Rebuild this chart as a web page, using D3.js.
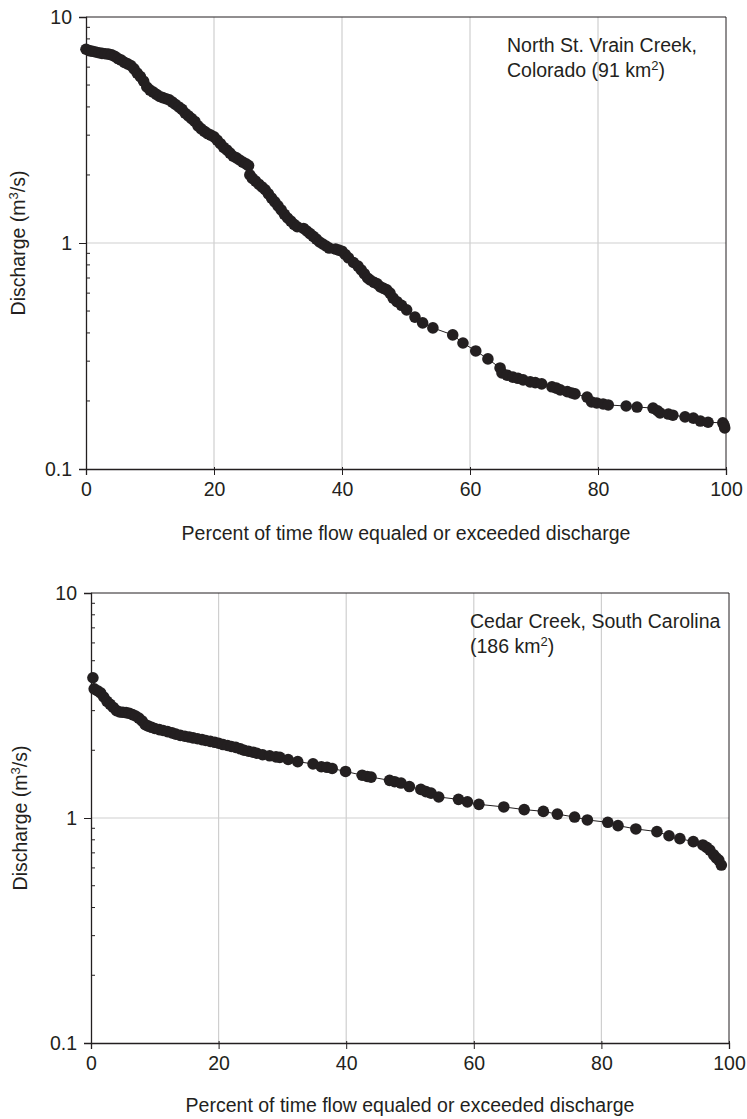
<!DOCTYPE html>
<html>
<head>
<meta charset="utf-8">
<script src="https://cdn.jsdelivr.net/npm/d3@7"></script>
<style>
  body { margin: 0; background: #fff; }
  text { font-family: "Liberation Sans", Arial, sans-serif; fill: #231f20; }
</style>
</head>
<body>
<div id="chart"></div>
<script>
//////////////////////////// DATA ////////////////////////////
// North St. Vrain Creek, Colorado - percent exceeded / discharge (m3/s)
var vrainPct = [0, 0.5, 1, 1.5, 2, 2.5, 3, 3.5, 4, 4.5, 5, 5.5, 6, 6.5, 7, 7.5, 8, 8.5, 9, 9.5,
  10, 10.5, 11, 11.5, 12, 12.5, 13, 13.5, 14, 14.5, 15, 15.5, 16, 16.5, 17, 17.5, 18, 18.5, 19, 19.5,
  20, 20.5, 21, 21.5, 22, 22.5, 23, 23.5, 24, 24.5, 25, 25.4, 25.6, 26, 26.5, 27, 27.5, 28, 28.5, 29,
  29.5, 30, 30.5, 31, 31.5, 32, 32.5, 33, 34, 34.5, 35, 35.5, 36, 36.5, 37, 37.5, 38, 39, 39.5, 40,
  40.5, 41, 41.8, 42.5, 43, 43.5, 44, 44.4, 45, 45.5, 46, 46.5, 47, 47.5, 48, 48.6, 49.3, 50.1, 51.4, 52.6,
  54.2, 57.3, 58.9, 60.9, 62.8, 64.7, 65, 65.8, 66.7, 67.5, 68.3, 69.4, 70.2, 71.2, 72.8, 73.5, 74.1, 75.2, 75.9, 76.4,
  78.3, 79, 79.8, 80.8, 81.6, 84.4, 86.1, 88.6, 89.3, 89.7, 91, 91.7, 93.6, 94.9, 96, 97.2, 99.5, 99.7, 99.8];
var vrainQ = [7.2, 7.1, 7.05, 7.0, 6.95, 6.9, 6.88, 6.85, 6.8, 6.7, 6.55, 6.45, 6.3, 6.2, 6.1, 5.9, 5.65, 5.45, 5.2, 4.9,
  4.75, 4.65, 4.55, 4.45, 4.4, 4.35, 4.3, 4.2, 4.1, 4.0, 3.9, 3.75, 3.65, 3.55, 3.45, 3.3, 3.2, 3.12, 3.05, 3.0,
  2.95, 2.85, 2.75, 2.65, 2.58, 2.5, 2.42, 2.38, 2.33, 2.28, 2.24, 2.2, 2.0, 1.93, 1.88, 1.82, 1.77, 1.72, 1.65, 1.58,
  1.52, 1.46, 1.4, 1.34, 1.29, 1.25, 1.21, 1.18, 1.16, 1.13, 1.1, 1.07, 1.04, 1.01, 0.99, 0.97, 0.95, 0.94, 0.93, 0.92,
  0.89, 0.86, 0.82, 0.79, 0.76, 0.73, 0.7, 0.686, 0.67, 0.66, 0.64, 0.63, 0.62, 0.6, 0.57, 0.55, 0.53, 0.506, 0.47, 0.443,
  0.421, 0.392, 0.361, 0.333, 0.307, 0.28, 0.266, 0.26, 0.255, 0.252, 0.248, 0.243, 0.241, 0.238, 0.231, 0.228, 0.224, 0.22, 0.217, 0.215,
  0.208, 0.198, 0.196, 0.194, 0.192, 0.19, 0.188, 0.186, 0.181, 0.177, 0.175, 0.173, 0.17, 0.168, 0.163, 0.161, 0.16, 0.156, 0.152];

// Cedar Creek, South Carolina
var cedarPct = [0.3, 0.5, 1, 1.5, 2, 2.5, 3, 3.5, 4, 4.5, 5, 5.5, 6, 6.5, 7, 7.5, 8, 8.5, 9, 9.5,
  10, 10.7, 11.3, 12, 12.7, 13.3, 14, 14.7, 15.4, 16, 16.7, 17.4, 18, 18.7, 19.4, 20, 20.7, 21.4, 22, 22.7,
  23.4, 24, 24.7, 25.4, 26, 26.9, 28, 29, 29.6, 30.9, 32.4, 34.8, 36.1, 37, 37.8, 39.9, 42.5, 43.3, 43.9, 46.8,
  47.6, 48.6, 49.9, 51.7, 52.5, 53.3, 54.5, 57.6, 59, 60.8, 64.7, 67.9, 70.9, 73.1, 75.8, 77.8, 81, 82.6, 85.4, 88.7,
  90.6, 92.3, 94.4, 95.9, 96.5, 97, 97.6, 98, 98.4, 98.8];
var cedarQ = [4.2, 3.75, 3.68, 3.6, 3.45, 3.3, 3.2, 3.1, 3.0, 2.96, 2.95, 2.94, 2.92, 2.88, 2.84, 2.78, 2.7, 2.6, 2.56, 2.53,
  2.5, 2.47, 2.45, 2.42, 2.39, 2.36, 2.33, 2.31, 2.29, 2.27, 2.25, 2.23, 2.21, 2.19, 2.17, 2.15, 2.12, 2.1, 2.08, 2.06,
  2.03, 2.0, 1.98, 1.96, 1.94, 1.91, 1.89, 1.87, 1.86, 1.82, 1.78, 1.74, 1.69, 1.68, 1.66, 1.61, 1.55, 1.53, 1.52, 1.47,
  1.45, 1.43, 1.38, 1.34, 1.31, 1.29, 1.24, 1.21, 1.18, 1.15, 1.12, 1.09, 1.07, 1.04, 1.01, 0.98, 0.957, 0.925, 0.894, 0.87,
  0.834, 0.81, 0.785, 0.759, 0.74, 0.72, 0.686, 0.665, 0.65, 0.618];

var xTicks = [0, 20, 40, 60, 80, 100];
var yTicks = [0.1, 1, 10];
var yTickLabels = ["0.1", "1", "10"];
var xTitle = "Percent of time flow equaled or exceeded discharge";
var vrainLabel = ["North St. Vrain Creek,", "Colorado (91 km", "2", ")"];
var cedarLabel = ["Cedar Creek, South Carolina", "(186 km", "2", ")"];

//////////////////////////// D3 ////////////////////////////
var width = 747;
var height = 1119;
var ink = "#231f20";
var fs = 19.5;

var svg = d3.select('#chart')
  .append('svg')
  .attr('width', width)
  .attr('height', height);

function drawPanel(cfg) {
  var g = svg.append('g');

  var x = d3.scaleLinear().domain([0, 100]).range([cfg.left, cfg.right]);
  var y = d3.scaleLog().domain([0.1, 10]).range([cfg.bottom, cfg.top]);

  // grid
  g.selectAll('.vgrid')
    .data(xTicks.filter(function(d) { return d > 0 && d < 100; }))
    .enter().append('line')
    .attr('x1', function(d) { return x(d); })
    .attr('x2', function(d) { return x(d); })
    .attr('y1', cfg.top).attr('y2', cfg.bottom)
    .attr('stroke', '#cfcfcf').attr('stroke-width', 1.2);

  g.append('line')
    .attr('x1', cfg.left).attr('x2', cfg.right)
    .attr('y1', y(1)).attr('y2', y(1))
    .attr('stroke', '#cfcfcf').attr('stroke-width', 1.2);

  // frame (top + right)
  g.append('path')
    .attr('d', 'M' + cfg.left + ',' + cfg.top + 'H' + cfg.right + 'V' + cfg.bottom)
    .attr('fill', 'none').attr('stroke', ink).attr('stroke-width', 1);

  // x axis
  var xAxis = d3.axisBottom(x).tickValues(xTicks).tickSize(6).tickPadding(7)
    .tickFormat(d3.format('d'));
  var xa = g.append('g')
    .attr('transform', 'translate(0,' + cfg.bottom + ')')
    .call(xAxis);
  xa.select('.domain').attr('stroke', ink).attr('stroke-width', 1.3);
  xa.selectAll('line').attr('stroke', ink).attr('y1', -2);
  xa.selectAll('text').attr('font-size', fs).attr('font-family', '"Liberation Sans", Arial, sans-serif')
    .attr('fill', ink);

  // y axis major
  var minor = [];
  [0.1, 1].forEach(function(b) {
    for (var k = 2; k <= 9; k++) minor.push(b * k);
  });
  var yAxis = d3.axisLeft(y).tickValues(yTicks).tickSize(7).tickPadding(7)
    .tickFormat(function(d, i) { return yTickLabels[i]; });
  var ya = g.append('g')
    .attr('transform', 'translate(' + cfg.left + ',0)')
    .call(yAxis);
  ya.select('.domain').attr('stroke', ink).attr('stroke-width', 1.3);
  ya.selectAll('line').attr('stroke', ink);
  ya.selectAll('text').attr('font-size', fs).attr('font-family', '"Liberation Sans", Arial, sans-serif')
    .attr('fill', ink);

  // minor ticks (inside)
  g.selectAll('.minor')
    .data(minor)
    .enter().append('line')
    .attr('x1', cfg.left).attr('x2', cfg.left + 4)
    .attr('y1', function(d) { return y(d); })
    .attr('y2', function(d) { return y(d); })
    .attr('stroke', ink).attr('stroke-width', 1);

  // connecting line + points
  var pts = cfg.pct.map(function(p, i) { return [p, cfg.q[i]]; });
  g.append('path')
    .datum(pts)
    .attr('fill', 'none').attr('stroke', ink).attr('stroke-width', 1)
    .attr('d', d3.line()
      .x(function(d) { return x(d[0]); })
      .y(function(d) { return y(d[1]); }));

  g.selectAll('.pt')
    .data(pts)
    .enter().append('circle')
    .attr('cx', function(d) { return x(d[0]); })
    .attr('cy', function(d) { return y(d[1]); })
    .attr('r', 5.8)
    .attr('fill', ink);

  // titles
  g.append('text')
    .attr('x', (cfg.left + cfg.right) / 2)
    .attr('y', cfg.bottom + cfg.xtOff)
    .attr('text-anchor', 'middle')
    .attr('font-size', fs)
    .text(xTitle);

  var yt = g.append('text')
    .attr('transform', 'translate(' + cfg.ytx + ',' + y(1) + ') rotate(-90)')
    .attr('text-anchor', 'middle')
    .attr('dy', '0.35em')
    .attr('font-size', fs);
  yt.append('tspan').text('Discharge (m');
  yt.append('tspan').attr('dy', -7).attr('font-size', 13).text('3');
  yt.append('tspan').attr('dy', 7).text('/s)');

  // annotation
  var lab = cfg.label;
  g.append('text')
    .attr('x', cfg.annX).attr('y', cfg.annY)
    .attr('font-size', fs)
    .text(lab[0]);
  var l2 = g.append('text')
    .attr('x', cfg.annX).attr('y', cfg.annY + 25)
    .attr('font-size', fs);
  l2.append('tspan').text(lab[1]);
  l2.append('tspan').attr('dy', -7).attr('font-size', 13).text(lab[2]);
  l2.append('tspan').attr('dy', 7).text(lab[3]);
}

drawPanel({
  left: 86, right: 726, top: 17, bottom: 469,
  pct: vrainPct, q: vrainQ, label: vrainLabel,
  annX: 507, annY: 52, ytx: 18, xtOff: 71
});

drawPanel({
  left: 91, right: 729, top: 593, bottom: 1043,
  pct: cedarPct, q: cedarQ, label: cedarLabel,
  annX: 470, annY: 628, ytx: 20, xtOff: 69
});
</script>
</body>
</html>
